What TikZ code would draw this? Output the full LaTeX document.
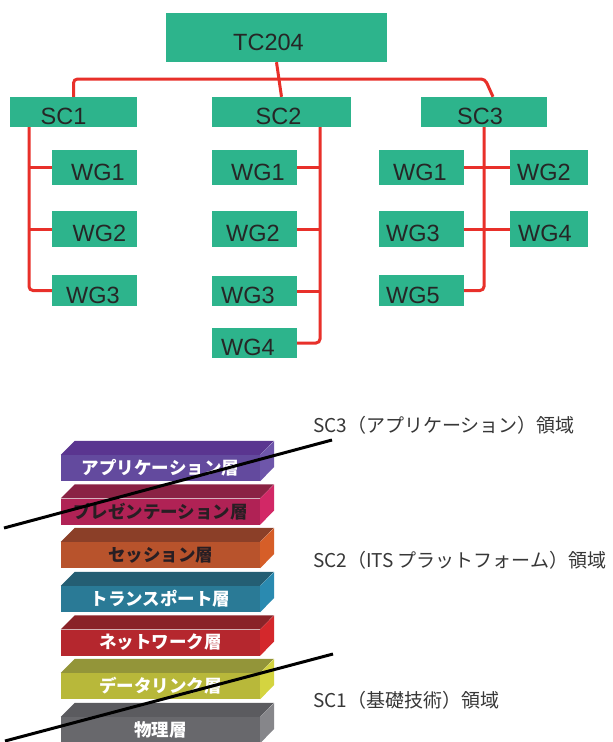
\documentclass[tikz,border=0pt]{standalone}
\usepackage{fontspec}
\newfontfamily\latf{Liberation Sans}
\newfontfamily\jpf{Noto Sans CJK JP}
\definecolor{boxg}{RGB}{45,180,140}
\definecolor{linered}{RGB}{232,48,42}
\definecolor{lbltext}{RGB}{55,55,55}
\definecolor{darktxt}{RGB}{40,30,35}
% layer colours
\definecolor{apT}{RGB}{90,53,144}\definecolor{apF}{RGB}{99,74,158}\definecolor{apS}{RGB}{110,86,170}
\definecolor{prT}{RGB}{138,34,68}\definecolor{prF}{RGB}{176,34,85}\definecolor{prS}{RGB}{210,40,102}
\definecolor{seT}{RGB}{139,63,40}\definecolor{seF}{RGB}{184,83,44}\definecolor{seS}{RGB}{214,94,40}
\definecolor{trT}{RGB}{36,94,115}\definecolor{trF}{RGB}{42,122,150}\definecolor{trS}{RGB}{42,138,176}
\definecolor{neT}{RGB}{138,35,40}\definecolor{neF}{RGB}{181,39,46}\definecolor{neS}{RGB}{212,40,44}
\definecolor{daT}{RGB}{147,149,57}\definecolor{daF}{RGB}{184,184,58}\definecolor{daS}{RGB}{212,212,64}
\definecolor{phT}{RGB}{91,91,95}\definecolor{phF}{RGB}{104,104,108}\definecolor{phS}{RGB}{134,134,138}
\newcommand\shx[2]{\hspace*{#1}#2\hspace*{-#1}}
\newcommand\osilayer[7]{%
  \node[layerfront, fill=#4, text=#6] (#1) at (160.5,#2+27) {#7};
  \fill[#3] (#1.north west) -- ++(14,-14) -- ++(199,0) -- (#1.north east) -- cycle;
  \fill[#5] (#1.north east) -- ++(14,-14) -- ++(0,26) -- (#1.south east) -- cycle;
}
\begin{document}
\begin{tikzpicture}[x=1pt,y=-1pt,
  gbox/.style={fill=boxg, inner sep=0pt, font=\latf\fontsize{23.5}{28}\selectfont,
    text=black!85, text height=25pt, text depth=0pt},
  rl/.style={draw=linered, line width=3pt},
  layerfront/.style={inner sep=0pt, minimum width=199pt, minimum height=26pt,
    font=\jpf\bfseries\fontsize{17.5}{20}\selectfont},
  lbl/.style={anchor=west, inner sep=0pt, text=lbltext, font=\jpf\fontsize{19}{22}\selectfont},
  divline/.style={draw=black, line width=3pt}]
\useasboundingbox (0,0) rectangle (613,742);
\fill[white] (0,0) rectangle (613,742);
% ---- top tree ----
\node[gbox, minimum width=221pt, minimum height=49pt] (tc) at (276.5,37.5) {\shx{-8pt}{TC204}};
\node[gbox, minimum width=127pt, minimum height=30pt] (sc1) at (73.5,112) {\shx{-10pt}{SC1}};
\node[gbox, minimum width=139pt, minimum height=30pt] (sc2) at (281.5,112) {\shx{-3pt}{SC2}};
\node[gbox, minimum width=126pt, minimum height=30pt] (sc3) at (484,112) {\shx{-4pt}{SC3}};
% SC1 WGs
\node[gbox, minimum width=85pt, minimum height=35pt] (w11) at (94.5,167.5) {\shx{3.5pt}{WG1}};
\node[gbox, minimum width=85pt, minimum height=36pt] (w12) at (94.5,229) {\shx{5pt}{WG2}};
\node[gbox, minimum width=85pt, minimum height=31pt] (w13) at (94.5,290.5) {\shx{-1.5pt}{WG3}};
% SC2 WGs
\node[gbox, minimum width=85pt, minimum height=35pt] (w21) at (254.5,167.5) {\shx{3.5pt}{WG1}};
\node[gbox, minimum width=85pt, minimum height=36pt] (w22) at (254.5,229) {\shx{-1.5pt}{WG2}};
\node[gbox, minimum width=85pt, minimum height=30pt] (w23) at (254.5,291) {\shx{-6.5pt}{WG3}};
\node[gbox, minimum width=85pt, minimum height=30pt] (w24) at (254.5,343) {\shx{-6.5pt}{WG4}};
% SC3 WGs
\node[gbox, minimum width=85pt, minimum height=35pt] (w31) at (421.5,167.5) {\shx{-1.5pt}{WG1}};
\node[gbox, minimum width=78pt, minimum height=35pt] (w32) at (549,167.5) {\shx{-5pt}{WG2}};
\node[gbox, minimum width=85pt, minimum height=36pt] (w33) at (421.5,229) {\shx{-8.5pt}{WG3}};
\node[gbox, minimum width=78pt, minimum height=36pt] (w34) at (549,229) {\shx{-4pt}{WG4}};
\node[gbox, minimum width=85pt, minimum height=31pt] (w35) at (421.5,290.5) {\shx{-8.5pt}{WG5}};
% connectors
\coordinate (bus) at (0,79);
\draw[rl] (tc.south) -- (sc2.north);
\draw[rl, rounded corners=4pt] (sc1.north) |- ([xshift=1pt]sc3.north |- bus) -- ([xshift=9pt]sc3.north);
\coordinate (t1) at ([xshift=-44.5pt]sc1.south);
\draw[rl, rounded corners=4pt] (t1) |- (w13.west);
\draw[rl] (w11.west) -- (w11.west -| t1);
\draw[rl] (w12.west) -- (w12.west -| t1);
\coordinate (t2) at ([xshift=38.5pt]sc2.south);
\draw[rl, rounded corners=4pt] (t2) |- (w24.east);
\draw[rl] (w21.east) -- (w21.east -| t2);
\draw[rl] (w22.east) -- (w22.east -| t2);
\draw[rl] (w23.east) -- (w23.east -| t2);
\draw[rl, rounded corners=4pt] (sc3.south) |- (w35.east);
\draw[rl] (w31.east) -- (w32.west);
\draw[rl] (w33.east) -- (w34.west);
% ---- OSI layers ----
\osilayer{lap}{441}{apT}{apF}{apS}{white}{アプリケーション層}
\osilayer{lpr}{484.5}{prT}{prF}{prS}{darktxt}{プレゼンテーション層}
\osilayer{lse}{528}{seT}{seF}{seS}{darktxt}{セッション層}
\osilayer{ltr}{572}{trT}{trF}{trS}{white}{トランスポート層}
\osilayer{lne}{615.5}{neT}{neF}{neS}{white}{ネットワーク層}
\osilayer{lda}{659}{daT}{daF}{daS}{white}{データリンク層}
\osilayer{lph}{703}{phT}{phF}{phS}{white}{物理層}
% dividing lines
\coordinate (a1) at (4,528);
\coordinate (a2) at (332,440);
\coordinate (b1) at (5,741);
\coordinate (b2) at (333,654);
\draw[divline] (a1) -- (a2);
\draw[divline] (b1) -- (b2);
% labels
\node[lbl] (l3) at (313,425) {SC3（アプリケーション）領域};
\node[lbl] (l2) at (313,560) {SC2（ITS プラットフォーム）領域};
\node[lbl] (l1) at (313,700) {SC1（基礎技術）領域};
\end{tikzpicture}
\end{document}
